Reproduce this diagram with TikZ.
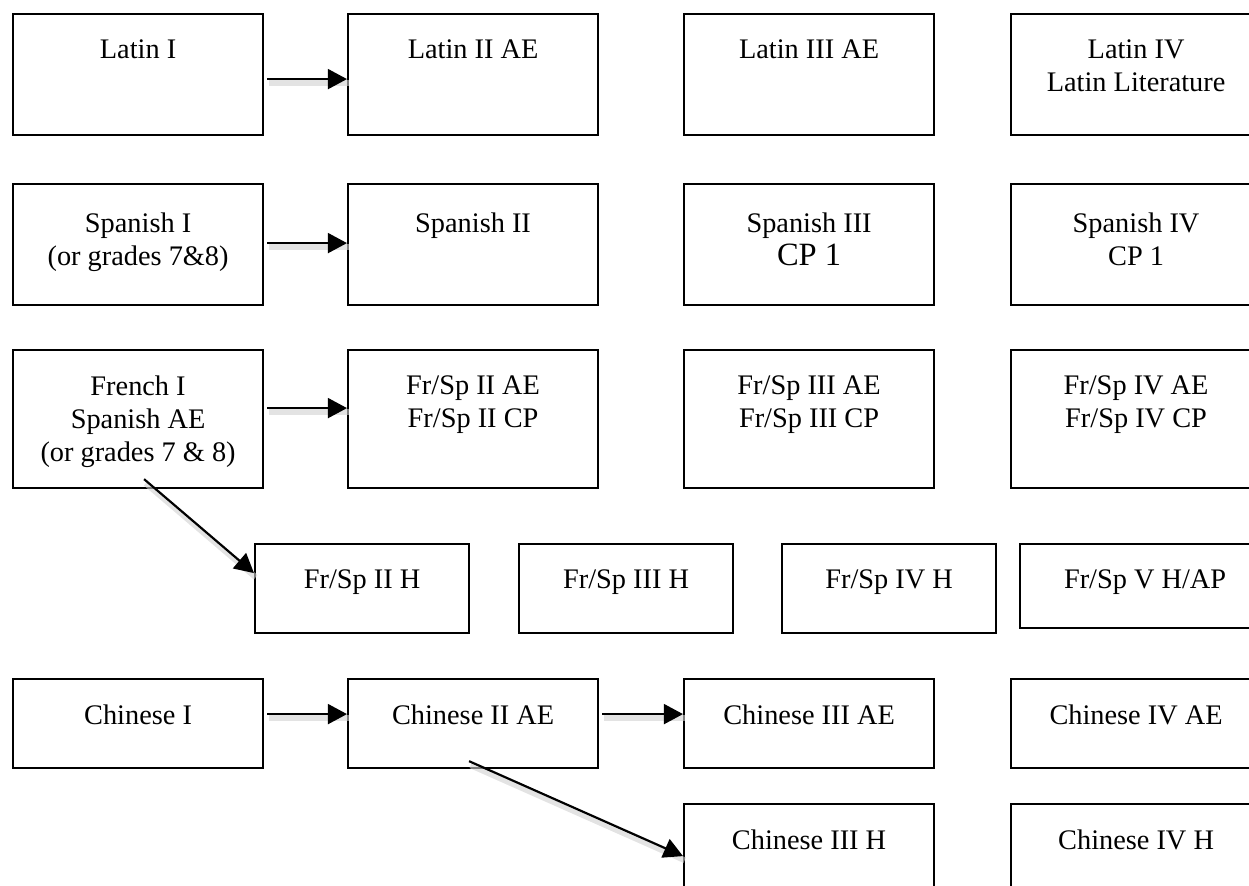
\documentclass[tikz,border=0pt]{standalone}
\usepackage{fontspec}
\setmainfont{Liberation Serif}
\usetikzlibrary{arrows.meta}
\begin{document}
\begin{tikzpicture}[x=0.6pt,y=-0.6pt,
  font=\fontsize{17}{19.8}\selectfont,
  sz/.style 2 args={minimum width=#1*0.6pt, minimum height=#2*0.6pt},
  box/.style={draw=black, line width=1.3pt, anchor=north west, inner sep=0pt},
  lbl/.style={anchor=north, align=center, inner sep=0pt, yshift=-16pt},
  lbltwo/.style={lbl, yshift=-2pt},
  arr/.style={line width=1.3pt, -{Triangle[length=11.5pt,width=12pt]},
    preaction={draw=black!18, line width=3.5pt, -, opacity=0.6,
      transform canvas={shift={(1pt,-2.5pt)}}}}]
\useasboundingbox (0,0) rectangle (1249,886);
\clip (0,0) rectangle (1249,886);

% Row 1: Latin
\node[box, sz={250}{121}, label={[lbl]north:Latin I}] (lat1) at (12,13) {};
\node[box, sz={250}{121}, label={[lbl]north:Latin II AE}] (lat2) at (347,13) {};
\node[box, sz={250}{121}, label={[lbl]north:Latin III AE}] (lat3) at (683,13) {};
\node[box, sz={250}{121}, label={[lbl]north:{Latin IV\\Latin Literature}}] (lat4) at (1010,13) {};

% Row 2: Spanish
\node[box, sz={250}{121}, label={[lbltwo]north:{Spanish I\\(or grades 7\&8)}}] (spa1) at (12,183) {};
\node[box, sz={250}{121}, label={[lbltwo]north:Spanish II}] (spa2) at (347,183) {};
\node[box, sz={250}{121}, label={[lbltwo]north:{Spanish III\\{\fontsize{19.5}{21}\selectfont CP 1}}}] (spa3) at (683,183) {};
\node[box, sz={250}{121}, label={[lbltwo]north:{Spanish IV\\CP 1}}] (spa4) at (1010,183) {};

% Row 3: French / Spanish
\node[box, sz={250}{138}, label={[lbl]north:{French I\\Spanish AE\\(or grades 7 \& 8)}}] (fre1) at (12,349) {};
\node[box, sz={250}{138}, label={[lbl]north:{Fr/Sp II AE\\Fr/Sp II CP}}] (frs2) at (347,349) {};
\node[box, sz={250}{138}, label={[lbl]north:{Fr/Sp III AE\\Fr/Sp III CP}}] (frs3) at (683,349) {};
\node[box, sz={250}{138}, label={[lbl]north:{Fr/Sp IV AE\\Fr/Sp IV CP}}] (frs4) at (1010,349) {};

% Row 4: Honors
\node[box, sz={214}{89}, label={[lbl]north:Fr/Sp II H}] (frh2) at (254,543) {};
\node[box, sz={214}{89}, label={[lbl]north:Fr/Sp III H}] (frh3) at (518,543) {};
\node[box, sz={214}{89}, label={[lbl]north:Fr/Sp IV H}] (frh4) at (781,543) {};
\node[box, sz={250}{84}, label={[lbl]north:Fr/Sp V H/AP}] (frh5) at (1019,543) {};

% Row 5: Chinese
\node[box, sz={250}{89}, label={[lbl]north:Chinese I}] (chi1) at (12,678) {};
\node[box, sz={250}{89}, label={[lbl]north:Chinese II AE}] (chi2) at (347,678) {};
\node[box, sz={250}{89}, label={[lbl]north:Chinese III AE}] (chi3) at (683,678) {};
\node[box, sz={250}{89}, label={[lbl]north:Chinese IV AE}] (chi4) at (1010,678) {};

% Row 6: Chinese Honors
\node[box, sz={250}{110}, label={[lbl]north:Chinese III H}] (chh3) at (683,803) {};
\node[box, sz={250}{110}, label={[lbl]north:Chinese IV H}] (chh4) at (1010,803) {};

% Arrows
\draw[arr] ([shift={(3,4.5)}]lat1.east) -- ([shift={(0,4.5)}]lat2.west);
\draw[arr] ([shift={(3,-1.5)}]spa1.east) -- ([shift={(0,-1.5)}]spa2.west);
\draw[arr] ([shift={(3,-11)}]fre1.east) -- ([shift={(0,-11)}]frs2.west);
\draw[arr] ([shift={(6,-10)}]fre1.south) -- ([shift={(0,-15.5)}]frh2.west);
\draw[arr] ([shift={(3,-9.5)}]chi1.east) -- ([shift={(0,-9.5)}]chi2.west);
\draw[arr] ([shift={(3,-9.5)}]chi2.east) -- ([shift={(0,-9.5)}]chi3.west);
\draw[arr] ([shift={(-4,-8)}]chi2.south) -- ([shift={(0,-3)}]chh3.west);
\end{tikzpicture}
\end{document}
